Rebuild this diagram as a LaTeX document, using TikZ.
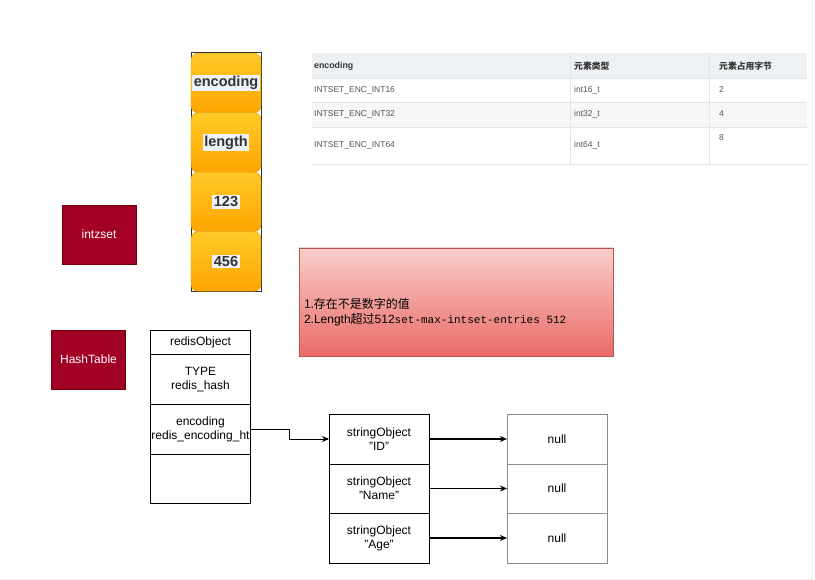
\documentclass[tikz,border=0pt]{standalone}
\usepackage{fontspec}
\setmainfont{Liberation Sans}
\setmonofont{Liberation Mono}
\newfontfamily\cjk{Noto Sans CJK SC}
\usepackage{xcolor}
\usetikzlibrary{arrows.meta}
\usetikzlibrary{positioning}
\definecolor{setred}{HTML}{A20025}
\definecolor{setredline}{HTML}{6F0000}
\definecolor{keytop}{HTML}{FFCA28}
\definecolor{keybot}{HTML}{FFA500}
\definecolor{keyline}{HTML}{D79B00}
\definecolor{labelbg}{HTML}{EEF2F8}
\definecolor{notetop}{HTML}{F8CECC}
\definecolor{notebot}{HTML}{EA6B66}
\definecolor{noteline}{HTML}{B85450}
\definecolor{headfill}{HTML}{EEF1F4}
\definecolor{stripe}{HTML}{F6F6F6}
\definecolor{rule}{HTML}{E2E4E6}
\definecolor{tabtext}{HTML}{555555}
\definecolor{edge}{HTML}{EEEEEE}
\newcommand{\fieldlabel}[1]{{\setlength{\fboxsep}{1.5pt}\colorbox{labelbg}{#1}}}
\begin{document}
\begin{tikzpicture}[x=1pt,y=-1pt,font=\fontsize{12}{14}\selectfont,
    link/.style={-{Stealth[length=7pt,width=6pt]},line width=1.1pt}]
    \tikzstyle{field} = [rectangle, rounded corners=7pt, draw=keyline, top color=keytop, bottom color=keybot, minimum width=70pt, minimum height=59.5pt, inner sep=0pt, outer sep=0pt, text=black!80, font=\bfseries\fontsize{14.5}{16}\selectfont]
    \tikzstyle{tag} = [rectangle, draw=setredline, fill=setred, minimum width=74pt, minimum height=59pt, text=white]
    \tikzstyle{cell} = [rectangle, draw, line width=0.9pt, minimum width=100pt, inner sep=0pt, outer sep=0pt, align=center]
    \tikzstyle{nullcell} = [cell, draw=black!45]
    \tikzstyle{tabhead} = [anchor=west, inner sep=0pt, text=black!80, font=\bfseries\fontsize{8.8}{10}\selectfont]
    \tikzstyle{tabcell} = [anchor=west, inner sep=0pt, text=tabtext, font=\fontsize{8.5}{10}\selectfont]
        \useasboundingbox (0,0) rectangle (815,580);
        \fill[white] (0,0) rectangle (815,580);
        \draw[edge] (812,0) -- (812,579) -- (0,579);
        %%% intset fields %%%
        \draw[black!80,thin] (191,52) rectangle (261,291);
        \node[field] (encfield) at (226,83) {\fieldlabel{encoding}};
        \node[field,below=0pt of encfield] (lenfield) {\fieldlabel{length}};
        \node[field,below=0pt of lenfield] (val1field) {\fieldlabel{123}};
        \node[field,below=0pt of val1field] (val2field) {\fieldlabel{456}};
        %%% encoding table %%%
        \fill[headfill] (312,53) rectangle (807,78);
        \fill[stripe] (312,102) rectangle (807,127);
        \foreach \y in {78,102,127,164} \draw[rule] (312,\y) -- (807,\y);
        \foreach \x in {570,709} \draw[rule] (\x,53) -- (\x,164);
        \node[tabhead] (hdenc) at (314,66) {encoding};
        \node[tabhead] (hdtype) at (574,66) {\cjk 元素类型};
        \node[tabhead] (hdsize) at (719,66) {\cjk 元素占用字节};
        \foreach \w/\s/\y/\ys in {16/2/90/90, 32/4/114/114, 64/8/145/138} {
            \node[tabcell] (enc\w) at (314,\y) {INTSET\_ENC\_INT\w};
            \node[tabcell] (type\w) at (574,\y) {int\w\_t};
            \node[tabcell] (size\w) at (719,\ys) {\s};
        }
        %%% labels
        \node[tag] (intzset) at (99,234.5) {intzset};
        \node[tag] (hashtable) at (88.5,359.5) {HashTable};
        %%% conversion note %%%
        \node[rectangle, draw=noteline, top color=notetop, bottom color=notebot, minimum width=314pt, minimum height=108pt] (limits) at (456,302) {};
        \node[anchor=west, align=left, inner sep=0pt, font=\fontsize{12}{15}\selectfont] (limitstext) at ([xshift=5pt,yshift=-10pt]limits.west)
            {{\cjk 1.存在不是数字的值}\\2.Length{\cjk 超过}512{\ttfamily\fontsize{11}{15}\selectfont set-max-intset-entries 512}};
        %%% redisObject %%%
        \node[cell, minimum height=24pt] (robj) at (200.5,342.5) {redisObject};
        \node[cell, minimum height=50pt, below=0pt of robj] (rtype) {TYPE\\redis\_hash};
        \node[cell, minimum height=49.5pt, below=0pt of rtype] (renc) {encoding\\redis\_encoding\_ht};
        \node[cell, minimum height=49pt, below=0pt of renc] (rptr) {};
        %%% dict entries %%%
        \node[cell, minimum height=50pt] (key1) at (379,439) {stringObject\\"ID"};
        \node[cell, minimum height=49pt, below=0pt of key1] (key2) {stringObject\\"Name"};
        \node[cell, minimum height=50pt, below=0pt of key2] (key3) {stringObject\\"Age"};
        \node[nullcell, minimum height=50pt] (val1) at (557,439) {null};
        \node[nullcell, minimum height=49pt, below=0pt of val1] (val2) {null};
        \node[nullcell, minimum height=50pt, below=0pt of val2] (val3) {null};
        %%% connections
        \draw[-{Stealth[length=7pt,width=6pt]},line width=0.9pt] (renc.east) -- ++(39,0) |- (key1.west);
        \foreach \i in {1,2,3} \draw[link] (key\i) -- (val\i);
    \end{tikzpicture}
\end{document}
